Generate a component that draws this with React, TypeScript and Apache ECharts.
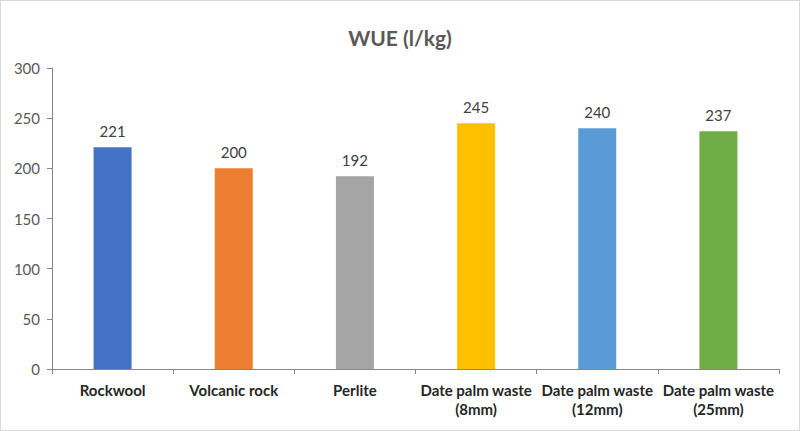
import React, { useEffect, useRef } from "react";
import * as echarts from "echarts";

const categories = [
  "Rockwool",
  "Volcanic rock",
  "Perlite",
  "Date palm waste\n(8mm)",
  "Date palm waste\n(12mm)",
  "Date palm waste\n(25mm)",
];
const values = [221, 200, 192, 245, 240, 237];
const colors = ["#4472C4", "#ED7D31", "#A5A5A5", "#FFC000", "#5B9BD5", "#70AD47"];
const yTicks = { min: 0, max: 300, interval: 50 };

export default function App() {
  const ref = useRef<HTMLDivElement>(null);
  useEffect(() => {
    if (!ref.current) return;
    const chart = echarts.init(ref.current, undefined, { renderer: "svg" });
    const font = "Lato, 'Open Sans', sans-serif";
    chart.setOption({
      animation: false,
      backgroundColor: "#ffffff",
      textStyle: { fontFamily: font },
      title: {
        text: "WUE (l/kg)",
        left: "center",
        top: 21,
        textStyle: { fontSize: 21, fontWeight: "bold", color: "#595959", fontFamily: font },
      },
      grid: { left: 51, right: 20, top: 67, bottom: 61, containLabel: false },
      xAxis: {
        type: "category",
        data: categories,
        axisLine: { lineStyle: { color: "#868686", width: 1 } },
        axisTick: { show: true, alignWithLabel: false, length: 5, lineStyle: { color: "#868686" } },
        axisLabel: {
          color: "#262626",
          fontSize: 15,
          fontWeight: "bold",
          lineHeight: 19,
          margin: 11,
          interval: 0,
          fontFamily: font,
        },
      },
      yAxis: {
        type: "value",
        min: yTicks.min,
        max: yTicks.max,
        interval: yTicks.interval,
        splitLine: { show: false },
        axisLine: { show: true, lineStyle: { color: "#868686", width: 1 } },
        axisTick: { show: true, length: 5, lineStyle: { color: "#868686" } },
        axisLabel: { color: "#595959", fontSize: 15, margin: 12, fontFamily: font },
      },
      series: [
        {
          type: "bar",
          barWidth: 38,
          data: values.map((v, i) => ({ value: v, itemStyle: { color: colors[i] } })),
          label: {
            show: true,
            position: "top",
            distance: 9,
            color: "#404040",
            fontSize: 15,
            fontFamily: font,
          },
        },
      ],
    });
    return () => chart.dispose();
  }, []);
  return (
    <div
      ref={ref}
      style={{
        position: "fixed",
        left: 0,
        top: 0,
        width: 800,
        height: 431,
        boxSizing: "border-box",
        border: "1px solid #d9d9d9",
        background: "#fff",
      }}
    />
  );
}
